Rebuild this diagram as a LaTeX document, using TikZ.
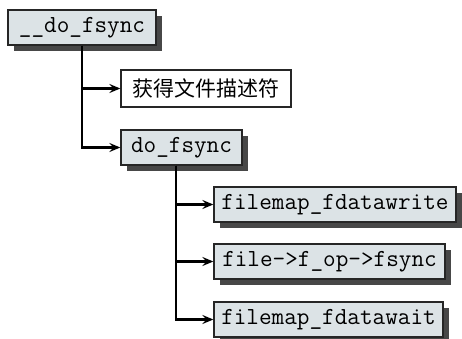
\documentclass[tikz,border=0pt]{standalone}
\usepackage{fontspec}
\newfontfamily\cjk{Noto Sans CJK SC}
\usetikzlibrary{arrows.meta,shadows}
\definecolor{boxfill}{HTML}{DCE3E6}
\definecolor{shadowc}{HTML}{474747}
\begin{document}
\begin{tikzpicture}[x=1pt,y=-1pt,
  fbox/.style={draw=black!85, line width=1.3pt, fill=boxfill, minimum height=35pt,
    inner sep=0pt, font=\ttfamily\fontsize{24.5}{24.5}\selectfont,
    drop shadow={shadow xshift=6pt, shadow yshift=-6pt, fill=shadowc, opacity=1}},
  wbox/.style={draw=black!85, line width=1.3pt, fill=white, minimum height=37pt,
    inner sep=0pt, font=\cjk\fontsize{21}{21}\selectfont},
  conn/.style={line width=2.2pt, -{Stealth[length=11pt,width=9pt,inset=4pt]}}]
\useasboundingbox (0,0) rectangle (462,339);
\node[fbox, minimum width=148pt] (A) at (82,27.5) {\_\_do\_fsync};
\node[wbox, minimum width=170pt] (B) at (206,88.5) {获得文件描述符};
\node[fbox, minimum width=121pt] (C) at (181.5,147.5) {do\_fsync};
\node[fbox, minimum width=242pt] (D) at (335,204.5) {filemap\_fdatawrite};
\node[fbox, minimum width=231pt] (E) at (329.5,261.5) {file->f\_op->fsync};
\node[fbox, minimum width=229pt] (F) at (328.5,319.5) {filemap\_fdatawait};
\draw[conn] (A.south) |- (B.west);
\draw[conn] (A.south) |- (C.west);
\draw[conn] ([xshift=-5.5pt]C.south) |- (D.west);
\draw[conn] ([xshift=-5.5pt]C.south) |- (E.west);
\draw[conn] ([xshift=-5.5pt]C.south) |- (F.west);
\end{tikzpicture}
\end{document}
